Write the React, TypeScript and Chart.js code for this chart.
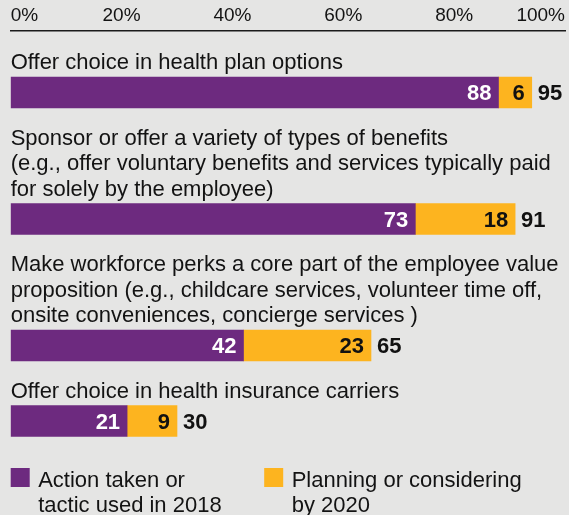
import React, { useEffect, useRef } from 'react';
import { Chart, registerables } from 'chart.js';

Chart.register(...registerables);

// ---- data ----
const categories: string[][] = [
  ['Offer choice in health plan options'],
  [
    'Sponsor or offer a variety of types of benefits',
    '(e.g., offer voluntary benefits and services typically paid',
    'for solely by the employee)',
  ],
  [
    'Make workforce perks a core part of the employee value',
    'proposition (e.g., childcare services, volunteer time off,',
    'onsite conveniences, concierge services )',
  ],
  ['Offer choice in health insurance carriers'],
];
const actionTaken = [88, 73, 42, 21];
const planning = [6, 18, 23, 9];
const totals = [95, 91, 65, 30];
const xTicks = [0, 20, 40, 60, 80, 100];
const seriesNames: string[][] = [
  ['Action taken or', 'tactic used in 2018'],
  ['Planning or considering', 'by 2020'],
];

// ---- style ----
const FONT = '"Liberation Sans", Arial, Helvetica, sans-serif';
const BG = '#e5e5e4';
const PURPLE = '#6d2a7f';
const ORANGE = '#fdb41f';
const INK = '#131313';
const W = 569;
const H = 515;

// vertical layout of the plot area, in pixels from its top edge
const LINE = 25.5; // category label line height
const FIRST_BASE = 38; // first label baseline
const BASE_TO_BAR = 8; // last label baseline -> bar top
const BAR = 31; // bar thickness
const BAR_TO_BASE = 36.5; // bar bottom -> next label baseline
const AXIS_H = 31; // height reserved for the top axis
const LEGEND_H = 60; // room below the plot for the legend
const PLOT_H = H - AXIS_H - LEGEND_H;

type Row = { firstBase: number; center: number };
const rows: Row[] = [];
{
  let prevBottom = 0;
  categories.forEach((lines, i) => {
    const firstBase = i === 0 ? FIRST_BASE : prevBottom + BAR_TO_BASE;
    const barTop = firstBase + (lines.length - 1) * LINE + BASE_TO_BAR;
    rows.push({ firstBase, center: barTop + BAR / 2 });
    prevBottom = barTop + BAR;
  });
}

const backgroundPlugin = {
  id: 'pageBackground',
  beforeDraw(chart: any) {
    const { ctx } = chart;
    ctx.save();
    ctx.fillStyle = BG;
    ctx.fillRect(0, 0, chart.width, chart.height);
    ctx.restore();
  },
};

const categoryLabelPlugin = {
  id: 'categoryLabels',
  afterDatasetsDraw(chart: any) {
    const { ctx } = chart;
    const xs = chart.scales.x;
    const ys = chart.scales.y;
    ctx.save();
    ctx.font = `22px ${FONT}`;
    ctx.fillStyle = INK;
    ctx.textAlign = 'left';
    ctx.textBaseline = 'alphabetic';
    categories.forEach((lines, i) => {
      lines.forEach((line, k) => {
        ctx.fillText(line, xs.getPixelForValue(0), ys.getPixelForValue(rows[i].firstBase + k * LINE));
      });
    });
    ctx.restore();
  },
};

const valueLabelPlugin = {
  id: 'valueLabels',
  afterDatasetsDraw(chart: any) {
    const { ctx } = chart;
    ctx.save();
    ctx.font = `bold 22px ${FONT}`;
    ctx.textBaseline = 'alphabetic';
    const colors = ['#ffffff', '#111111'];
    chart.data.datasets.forEach((ds: any, di: number) => {
      const meta = chart.getDatasetMeta(di);
      meta.data.forEach((el: any, i: number) => {
        const v = ds.data[i].x;
        ctx.fillStyle = colors[di];
        ctx.textAlign = 'right';
        ctx.fillText(String(v), el.x - 7, el.y + 7.5);
        if (di === chart.data.datasets.length - 1) {
          ctx.fillStyle = '#111111';
          ctx.textAlign = 'left';
          ctx.fillText(String(totals[i]), el.x + 6, el.y + 7.5);
        }
      });
    });
    ctx.restore();
  },
};

const legendPlugin = {
  id: 'twoLineLegend',
  afterDraw(chart: any) {
    const { ctx, chartArea } = chart;
    const colors = [PURPLE, ORANGE];
    const starts = [chartArea.left, chartArea.left + 253.5];
    const top = chartArea.bottom + 13;
    ctx.save();
    ctx.font = `22px ${FONT}`;
    ctx.textAlign = 'left';
    ctx.textBaseline = 'alphabetic';
    seriesNames.forEach((lines, i) => {
      ctx.fillStyle = colors[i];
      ctx.fillRect(starts[i], top, 19, 19);
      ctx.fillStyle = INK;
      lines.forEach((line, k) => {
        ctx.fillText(line, starts[i] + 27.5, top + 19 + k * 25);
      });
    });
    ctx.restore();
  },
};

export default function App() {
  const canvasRef = useRef<HTMLCanvasElement | null>(null);

  useEffect(() => {
    document.body.style.margin = '0';
    document.body.style.background = BG;
    const canvas = canvasRef.current;
    if (!canvas) return;

    const chart = new Chart(canvas, {
      type: 'bar',
      data: {
        datasets: [
          {
            label: seriesNames[0].join(' '),
            data: actionTaken.map((v, i) => ({ x: v, y: rows[i].center })),
            backgroundColor: PURPLE,
            borderWidth: 0,
            barThickness: BAR,
          },
          {
            label: seriesNames[1].join(' '),
            data: planning.map((v, i) => ({ x: v, y: rows[i].center })),
            backgroundColor: ORANGE,
            borderWidth: 0,
            barThickness: BAR,
          },
        ],
      },
      options: {
        indexAxis: 'y',
        responsive: false,
        animation: false,
        devicePixelRatio: 1,
        layout: { padding: { top: 0, left: 10.7, right: 2.3, bottom: LEGEND_H } },
        plugins: {
          legend: { display: false },
          tooltip: { enabled: false },
        },
        scales: {
          x: {
            type: 'linear',
            position: 'top',
            stacked: true,
            min: 0,
            max: 100,
            afterBuildTicks(scale: any) {
              scale.ticks = xTicks.map((v) => ({ value: v }));
            },
            afterFit(scale: any) {
              scale.height = AXIS_H;
            },
            ticks: {
              align: 'inner',
              padding: 4,
              color: INK,
              font: { family: FONT, size: 19 },
              callback: (v: any) => `${v}%`,
            },
            grid: { display: false, drawTicks: false },
            border: { display: true, color: '#1a1a1a', width: 1.5 },
          },
          y: {
            type: 'linear',
            display: false,
            stacked: true,
            reverse: true,
            offset: false,
            grid: { offset: false },
            min: 0,
            max: PLOT_H,
          },
        },
      },
      plugins: [backgroundPlugin, categoryLabelPlugin, valueLabelPlugin, legendPlugin],
    } as any);

    return () => chart.destroy();
  }, []);

  return (
    <div style={{ width: W, height: H }}>
      <canvas ref={canvasRef} width={W} height={H} style={{ display: 'block' }} />
    </div>
  );
}
